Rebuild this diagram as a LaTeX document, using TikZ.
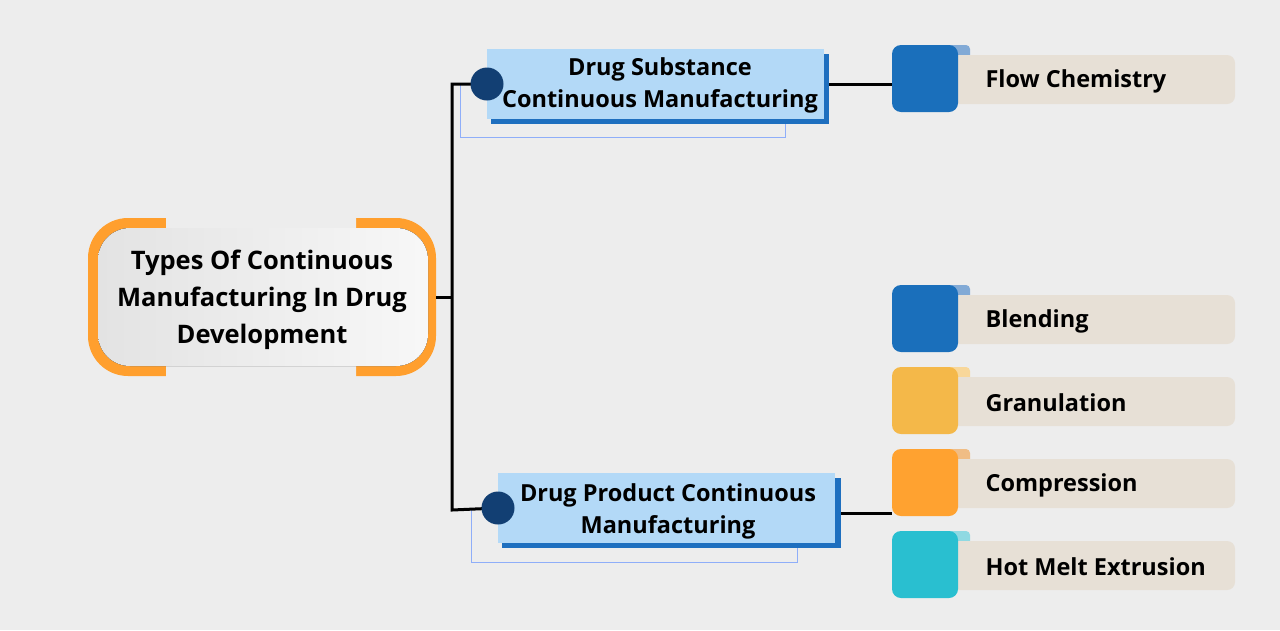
\documentclass[tikz,border=0pt]{standalone}
\usepackage{fontspec}
\setmainfont{Open Sans}
\begin{document}
\begin{tikzpicture}[x=1pt,y=-1pt,
  txt/.style={font=\bfseries\fontsize{23.5}{32}\selectfont,text=black,align=center},
  mtxt/.style={font=\bfseries\fontsize{25.5}{37}\selectfont,text=black,align=center},
  itxt/.style={font=\bfseries\fontsize{23.5}{28}\selectfont,text=black,anchor=west},
  conn/.style={line width=3pt,black},
  dot/.style={circle,fill=dotblue,minimum size=33pt,inner sep=0pt}]
\definecolor{bg}{HTML}{EDEDED}
\definecolor{lblue}{HTML}{B3D9F7}
\definecolor{dblue}{HTML}{1E6FBF}
\definecolor{dotblue}{HTML}{123F73}
\definecolor{beige}{HTML}{E7E0D6}
\definecolor{cblue}{HTML}{1A6FBB}\definecolor{tblue}{HTML}{82AAD6}
\definecolor{cyel}{HTML}{F4B849}\definecolor{tyel}{HTML}{F8D79A}
\definecolor{cora}{HTML}{FFA230}\definecolor{tora}{HTML}{F0BD85}
\definecolor{ccya}{HTML}{29BFD0}\definecolor{tcya}{HTML}{8FD9E2}
\definecolor{orng}{HTML}{FF9F2E}
\fill[bg] (0,0) rectangle (1280,630);
\useasboundingbox (0,0) rectangle (1280,630);
% main box
\fill[orng,rounded corners=40pt] (88,218) rectangle (436,376);
\fill[bg] (166,216) rectangle (356,229) (166,365) rectangle (356,378);
\fill[left color=gray!22,right color=gray!6,rounded corners=32pt] (98,228) rectangle (428,366);
\node[mtxt] (main) at (262,300) {Types Of Continuous\\Manufacturing In Drug\\Development\hspace{0.6em}};
% connectors
\coordinate (j) at (452,297);
\coordinate (jt) at (452,84);
\coordinate (jb) at (452,510);
% top sub box
\draw[lblue!80!blue,line width=0.8pt] (460,84) rectangle (785,137);
\fill[dblue] (491,54) rectangle (829,124);
\fill[lblue] (487,49) rectangle (824,119);
\node[txt] (ds) at (660,85) {Drug Substance\\Continuous Manufacturing};
% bottom sub box
\draw[lblue!80!blue,line width=0.8pt] (471,508) rectangle (797,562);
\fill[dblue] (502,478) rectangle (841,548);
\fill[lblue] (498,473) rectangle (835,543);
\node[txt] (dp) at (668,511) {Drug Product Continuous\\Manufacturing};
\coordinate (dt) at (487,84);
\coordinate (db) at (498,508);
\draw[conn] (436,297) -- (j);
\draw[conn] (dt) -- (jt) -- (jb) -- (db);
\node[dot] at (dt) {};\node[dot] at (db) {};
\draw[conn] (829,84) -- (892,84);
\draw[conn] (841,513) -- (892,513);
% items
\foreach \y/\c/\t/\lab in {45/cblue/tblue/Flow Chemistry,285/cblue/tblue/Blending,367/cyel/tyel/Granulation,449/cora/tora/Compression,531/ccya/tcya/Hot Melt Extrusion}{
  \fill[\t,rounded corners=4pt] (940,\y) rectangle (970,\y+20);
  \fill[beige,rounded corners=8pt] (950,\y+10) rectangle (1235,\y+59);
  \fill[\c,rounded corners=9pt] (892,\y) rectangle (958,\y+67);
  \node[itxt] at (982,\y+36) {\lab};
}
\end{tikzpicture}
\end{document}
